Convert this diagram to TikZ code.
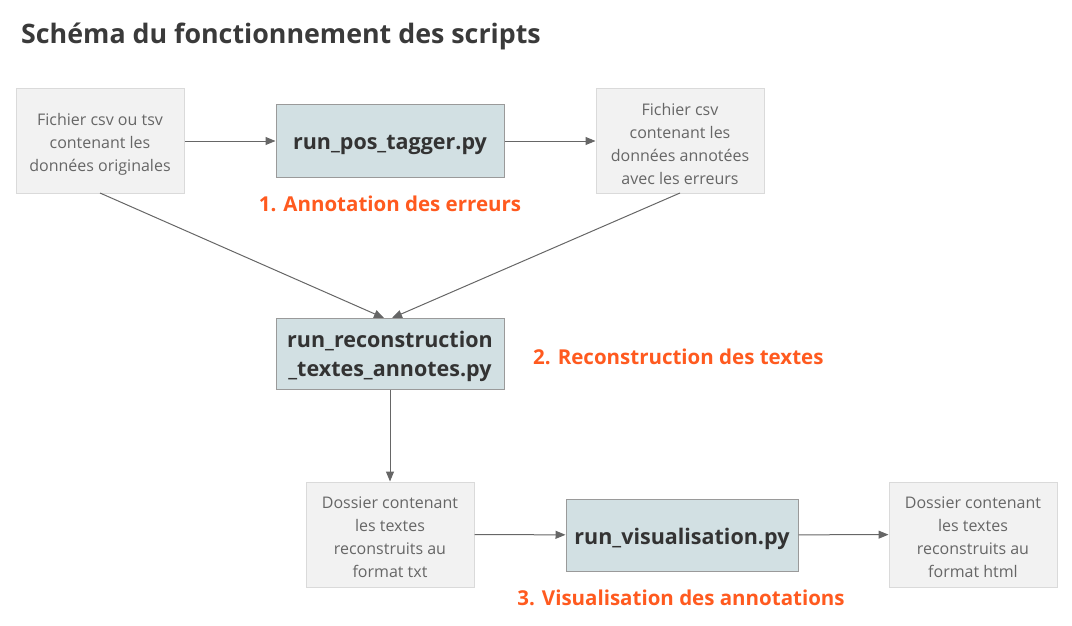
\documentclass[tikz,border=0pt]{standalone}
\usepackage{fontspec}
\setmainfont{Open Sans}
\usetikzlibrary{arrows.meta}
\definecolor{titlec}{HTML}{3A3A3A}
\definecolor{orangec}{HTML}{FF5A1F}
\definecolor{grayfill}{HTML}{F2F2F2}
\definecolor{grayline}{HTML}{DADADA}
\definecolor{graytext}{HTML}{666666}
\definecolor{bluefill}{HTML}{D2E0E3}
\definecolor{blueline}{HTML}{9A9A9A}
\definecolor{boldtext}{HTML}{333333}
\definecolor{arrowc}{HTML}{666666}
\newcommand{\lowertext}[2]{\raisebox{-#1}[\height][\depth]{#2}}
\tikzset{
  filebox/.style={draw=grayline, line width=1pt, fill=grayfill, minimum width=168pt, minimum height=104pt,
    inner sep=0pt, text=graytext, align=center, font=\fontsize{16}{23}\selectfont},
  scriptbox/.style={draw=blueline, line width=1pt, fill=bluefill, minimum width=228pt, minimum height=72pt,
    inner sep=0pt, text=boldtext, align=center, font=\fontsize{21.5}{29}\selectfont\bfseries},
  steplabel/.style={text=orangec, font=\fontsize{20.5}{25}\selectfont\bfseries, inner sep=0pt},
  conn/.style={draw=arrowc, line width=1pt, -{Triangle[length=10pt,width=8pt]}}
}
\begin{document}
\begin{tikzpicture}[x=1pt,y=-1pt]
\useasboundingbox (0,0) rectangle (1072,626);
\node[anchor=west, text=titlec, font=\fontsize{26.8}{30}\selectfont\bfseries, inner sep=0pt] (title) at (21,36) {Schéma du fonctionnement des scripts};
\node[filebox] (a) at (100,141) {\lowertext{3pt}{\parbox{168pt}{\centering Fichier csv ou tsv\\contenant les\\données originales}}};
\node[scriptbox] (b) at (390,141) {\lowertext{4pt}{run\_pos\_tagger.py}};
\node[filebox] (c) at (680,141) {\lowertext{3pt}{\parbox{168pt}{\centering Fichier csv\\contenant les\\données annotées\\avec les erreurs}}};
\node[steplabel] (l1) at (390,204) {1. Annotation des erreurs};
\node[scriptbox, minimum height=71pt] (d) at (390,353.5) {\lowertext{3pt}{\parbox{228pt}{\centering run\_reconstruction\\\_textes\_annotes.py}}};
\node[steplabel, anchor=west] (l2) at (533,357) {2. Reconstruction des textes};
\node[filebox, minimum height=105pt] (e) at (390,534.5) {\lowertext{2.5pt}{\parbox{168pt}{\centering Dossier contenant\\les textes\\reconstruits au\\format txt}}};
\node[scriptbox, minimum width=232pt] (f) at (682,535) {\lowertext{4pt}{run\_visualisation.py}};
\node[filebox, minimum height=105pt] (g) at (973,534.5) {\lowertext{2.5pt}{\parbox{168pt}{\centering Dossier contenant\\les textes\\reconstruits au\\format html}}};
\node[steplabel] (l3) at (681,598) {3. Visualisation des annotations};
\coordinate (dtop1) at (384,318);
\coordinate (dtop2) at (392,318);
\coordinate (abot) at (100,193);
\coordinate (cbot) at (680,193);
\draw[conn] (a) -- (b);
\draw[conn] (b) -- (c);
\draw[conn] (abot) -- (dtop1);
\draw[conn] (cbot) -- (dtop2);
\draw[conn] (d) -- (e);
\draw[conn] (e) -- (f);
\draw[conn] (f) -- (g);
\end{tikzpicture}
\end{document}
